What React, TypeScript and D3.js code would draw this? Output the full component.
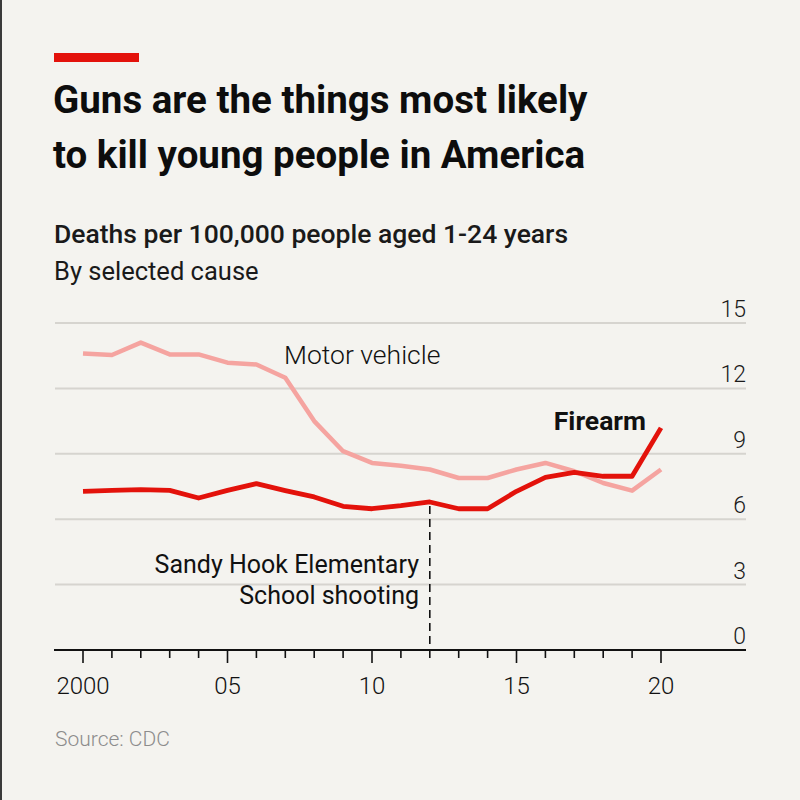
import React, { useEffect, useRef } from 'react';
import * as d3 from 'd3';

// years on the x axis
const years = d3.range(2000, 2021);
// deaths per 100,000 people aged 1-24
const motorVehicle = [13.6, 13.53, 14.1, 13.56, 13.56, 13.18, 13.1, 12.49, 10.5, 9.12, 8.58, 8.45, 8.28, 7.89, 7.89, 8.28, 8.58, 8.2, 7.66, 7.31, 8.28];
const firearm = [7.28, 7.32, 7.36, 7.32, 6.97, 7.32, 7.63, 7.31, 7.02, 6.59, 6.48, 6.62, 6.79, 6.48, 6.48, 7.28, 7.92, 8.15, 7.97, 7.97, 10.19];
const yTicks = [0, 3, 6, 9, 12, 15];
const xMajor = [2000, 2005, 2010, 2015, 2020];
const xTickLabels = ['2000', '05', '10', '15', '20'];
const sandyHookYear = 2012;

const FONT = 'Roboto, "Noto Sans", sans-serif';
const RED = '#e3120b';
const PINK = '#f5a4a0';

const App: React.FC = () => {
  const svgRef = useRef<SVGSVGElement>(null);

  useEffect(() => {
    const width = 800;
    const height = 800;
    const svg = d3.select(svgRef.current).attr('width', width).attr('height', height);
    svg.selectAll('*').remove();

    // background
    svg.append('rect').attr('width', width).attr('height', height).attr('fill', '#f4f3ef');
    svg.append('rect').attr('x', 0).attr('y', 0).attr('width', 2).attr('height', height).attr('fill', '#3a3a3a');

    // header
    svg.append('rect').attr('x', 54).attr('y', 53).attr('width', 85).attr('height', 9).attr('fill', RED);
    const title = svg.append('text').attr('font-family', FONT).attr('font-weight', 700)
      .attr('font-size', 38.5).attr('fill', '#0d0d0d');
    title.append('tspan').attr('x', 53).attr('y', 113).text('Guns are the things most likely');
    title.append('tspan').attr('x', 53).attr('y', 168).text('to kill young people in America');

    svg.append('text').attr('x', 54).attr('y', 243).attr('font-family', FONT).attr('font-weight', 500)
      .attr('font-size', 26.5).attr('fill', '#1a1a1a').text('Deaths per 100,000 people aged 1-24 years');
    svg.append('text').attr('x', 54).attr('y', 280).attr('font-family', FONT).attr('font-weight', 400)
      .attr('font-size', 25.5).attr('fill', '#1a1a1a').text('By selected cause');

    // scales
    const x = d3.scaleLinear().domain([2000, 2020]).range([83, 661]);
    const y = d3.scaleLinear().domain([0, 15]).range([650, 323]);

    // gridlines and y labels
    const grid = svg.append('g');
    grid.selectAll('line').data(yTicks.filter(d => d > 0)).enter().append('line')
      .attr('x1', 55).attr('x2', 746)
      .attr('y1', d => y(d)).attr('y2', d => y(d))
      .attr('stroke', '#d6d4cf').attr('stroke-width', 2);
    grid.selectAll('text').data(yTicks).enter().append('text')
      .attr('x', 746).attr('y', d => y(d) - 6)
      .attr('text-anchor', 'end').attr('font-family', FONT).attr('font-weight', 300)
      .attr('font-size', 23).attr('fill', '#1a1a1a')
      .text(d => String(d));

    // lines
    const line = d3.line<number>().x((_, i) => x(years[i])).y(d => y(d)).curve(d3.curveLinear);
    svg.append('path').datum(motorVehicle).attr('d', line).attr('fill', 'none')
      .attr('stroke', PINK).attr('stroke-width', 4.5).attr('stroke-linejoin', 'round');
    svg.append('path').datum(firearm).attr('d', line).attr('fill', 'none')
      .attr('stroke', RED).attr('stroke-width', 4.8).attr('stroke-linejoin', 'round');

    // Sandy Hook annotation
    const shIdx = years.indexOf(sandyHookYear);
    svg.append('line').attr('x1', x(sandyHookYear)).attr('x2', x(sandyHookYear))
      .attr('y1', y(firearm[shIdx]) + 4).attr('y2', y(0))
      .attr('stroke', '#111').attr('stroke-width', 1.6).attr('stroke-dasharray', '8,5');
    const sh = svg.append('text').attr('text-anchor', 'end').attr('font-family', FONT)
      .attr('font-size', 25).attr('fill', '#111');
    sh.append('tspan').attr('x', 419).attr('y', 573).text('Sandy Hook Elementary');
    sh.append('tspan').attr('x', 419).attr('y', 604).text('School shooting');

    // series labels
    svg.append('text').attr('x', 284).attr('y', 364).attr('font-family', FONT).attr('font-weight', 300)
      .attr('font-size', 26.5).attr('fill', '#111').text('Motor vehicle');
    svg.append('text').attr('x', 646).attr('y', 430).attr('text-anchor', 'end').attr('font-family', FONT)
      .attr('font-weight', 700).attr('font-size', 26.5).attr('fill', '#111').text('Firearm');

    // x axis
    svg.append('line').attr('x1', 54).attr('x2', 746).attr('y1', y(0)).attr('y2', y(0))
      .attr('stroke', '#111').attr('stroke-width', 2);
    svg.append('g').selectAll('line').data(years).enter().append('line')
      .attr('x1', d => x(d)).attr('x2', d => x(d))
      .attr('y1', y(0)).attr('y2', d => y(0) + (xMajor.includes(d) ? 13 : 8))
      .attr('stroke', '#111').attr('stroke-width', 1.6);
    svg.append('g').selectAll('text').data(xMajor).enter().append('text')
      .attr('x', d => x(d)).attr('y', 694).attr('text-anchor', 'middle')
      .attr('font-family', FONT).attr('font-weight', 300).attr('font-size', 24).attr('fill', '#111')
      .text((_, i) => xTickLabels[i]);

    // source
    svg.append('text').attr('x', 55).attr('y', 746).attr('font-family', FONT).attr('font-weight', 300)
      .attr('font-size', 21).attr('fill', '#8c8c8c').text('Source: CDC');
  }, []);

  return <svg ref={svgRef} style={{ position: 'absolute', left: 0, top: 0, display: 'block' }} />;
};

export default App;
